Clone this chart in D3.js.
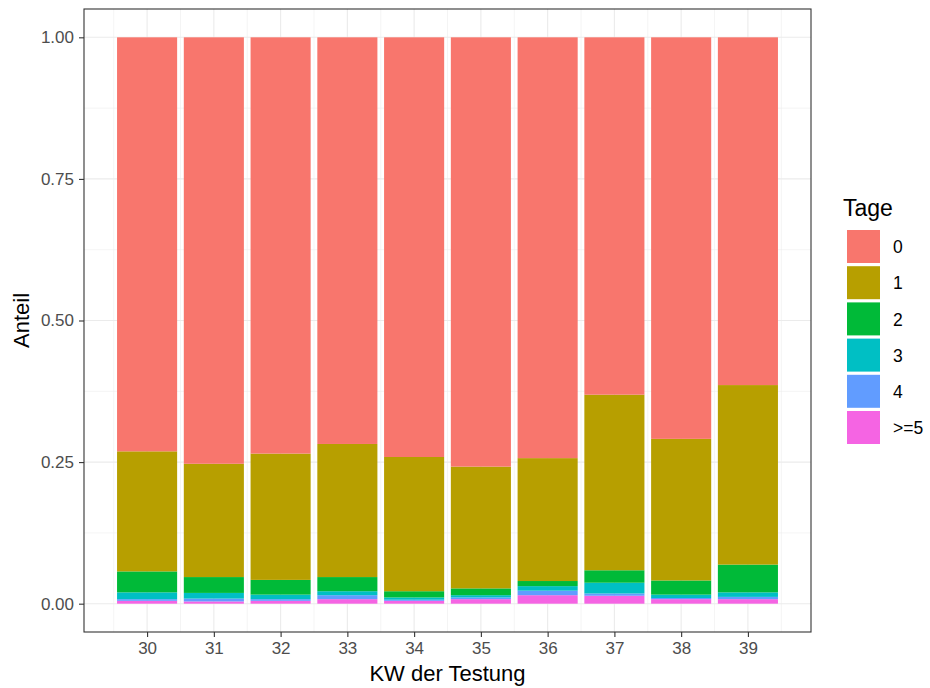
<!DOCTYPE html>
<html>
<head>
<meta charset="utf-8">
<script src="https://cdn.jsdelivr.net/npm/d3@7"></script>
<style>
html,body{margin:0;padding:0;background:#fff;}
svg{display:block;font-family:"Liberation Sans",Arial,sans-serif;}
</style>
</head>
<body>
<svg id="chart" width="930" height="688"></svg>
<script>
// Data
const weeks = [30, 31, 32, 33, 34, 35, 36, 37, 38, 39];
const categories = ["0", "1", "2", "3", "4", ">=5"];
const share0 = [0.731, 0.753, 0.735, 0.718, 0.741, 0.758, 0.743, 0.631, 0.709, 0.614];
const share1 = [0.212, 0.200, 0.223, 0.235, 0.237, 0.215, 0.217, 0.310, 0.250, 0.317];
const share2 = [0.037, 0.028, 0.026, 0.025, 0.011, 0.012, 0.009, 0.022, 0.025, 0.049];
const share3 = [0.012, 0.010, 0.008, 0.007, 0.004, 0.004, 0.008, 0.019, 0.006, 0.008];
const share4 = [0.003, 0.005, 0.003, 0.007, 0.002, 0.003, 0.008, 0.004, 0.002, 0.004];
const share5 = [0.005, 0.004, 0.005, 0.008, 0.005, 0.008, 0.015, 0.014, 0.008, 0.008];
const yTicks = [0, 0.25, 0.5, 0.75, 1];
const yTickLabels = ["0.00", "0.25", "0.50", "0.75", "1.00"];
const colors = ["#F8766D", "#B79F00", "#00BA38", "#00BFC4", "#619CFF", "#F564E3"];

const shares = [share0, share1, share2, share3, share4, share5];
const rows = weeks.map((w, i) => {
  const r = {week: w};
  categories.forEach((c, k) => r[c] = shares[k][i]);
  return r;
});

const svg = d3.select("#chart");
const panel = {left: 84, top: 9, right: 811, bottom: 632};

const barW = 0.9;
const xMin = weeks[0] - barW / 2, xMax = weeks[weeks.length - 1] + barW / 2;
const xPad = (xMax - xMin) * 0.05;
const x = d3.scaleLinear().domain([xMin - xPad, xMax + xPad]).range([panel.left, panel.right]);
const y = d3.scaleLinear().domain([-0.05, 1.05]).range([panel.bottom, panel.top]);

svg.append("rect").attr("x", panel.left).attr("y", panel.top)
  .attr("width", panel.right - panel.left).attr("height", panel.bottom - panel.top)
  .attr("fill", "#fff");

const g = svg.append("g");
const yMinor = [0.125, 0.375, 0.625, 0.875];
g.selectAll(".ymin").data(yMinor).join("line")
  .attr("x1", panel.left).attr("x2", panel.right)
  .attr("y1", d => y(d)).attr("y2", d => y(d))
  .attr("stroke", "#ebebeb").attr("stroke-width", 0.55);
const xMinor = d3.range(29.5, 40, 1);
g.selectAll(".xmin").data(xMinor).join("line")
  .attr("y1", panel.top).attr("y2", panel.bottom)
  .attr("x1", d => x(d)).attr("x2", d => x(d))
  .attr("stroke", "#ebebeb").attr("stroke-width", 0.55);
g.selectAll(".ymaj").data(yTicks).join("line")
  .attr("x1", panel.left).attr("x2", panel.right)
  .attr("y1", d => y(d)).attr("y2", d => y(d))
  .attr("stroke", "#ebebeb").attr("stroke-width", 1.1);
g.selectAll(".xmaj").data(weeks).join("line")
  .attr("y1", panel.top).attr("y2", panel.bottom)
  .attr("x1", d => x(d)).attr("x2", d => x(d))
  .attr("stroke", "#ebebeb").attr("stroke-width", 1.1);

// stacked bars: first category on top
const stack = d3.stack().keys(categories.slice().reverse());
const series = stack(rows);
const color = d3.scaleOrdinal().domain(categories).range(colors);
const bw = x(barW) - x(0);
svg.append("g").selectAll("g").data(series).join("g")
  .attr("fill", d => color(d.key))
  .selectAll("rect").data(d => d).join("rect")
  .attr("x", d => x(d.data.week) - bw / 2)
  .attr("width", bw)
  .attr("y", d => y(d[1]))
  .attr("height", d => y(d[0]) - y(d[1]));

svg.append("rect").attr("x", panel.left).attr("y", panel.top)
  .attr("width", panel.right - panel.left).attr("height", panel.bottom - panel.top)
  .attr("fill", "none").attr("stroke", "#333").attr("stroke-width", 1.1);

const yAxis = d3.axisLeft(y).tickValues(yTicks).tickFormat((d, i) => yTickLabels[i]).tickSize(5).tickPadding(5);
const ya = svg.append("g").attr("transform", `translate(${panel.left},0)`).call(yAxis);
const xAxis = d3.axisBottom(x).tickValues(weeks).tickFormat(d3.format("d")).tickSize(5).tickPadding(5);
const xa = svg.append("g").attr("transform", `translate(0,${panel.bottom})`).call(xAxis);
[ya, xa].forEach(a => {
  a.select(".domain").remove();
  a.selectAll(".tick line").attr("stroke", "#333").attr("stroke-width", 1.1);
  a.selectAll(".tick text").attr("fill", "#4d4d4d").style("font-size", "17px")
    .style("font-family", "'Liberation Sans', Arial, sans-serif");
});

svg.append("text").attr("x", (panel.left + panel.right) / 2).attr("y", 681)
  .attr("text-anchor", "middle").style("font-size", "22px").attr("fill", "#000")
  .text("KW der Testung");
svg.append("text").attr("transform", `translate(29,${(panel.top + panel.bottom) / 2}) rotate(-90)`)
  .attr("text-anchor", "middle").style("font-size", "22px").attr("fill", "#000")
  .text("Anteil");

const lg = svg.append("g").attr("transform", "translate(846,229)");
lg.append("text").attr("x", -3).attr("y", -13).style("font-size", "23px").attr("fill", "#000").text("Tage");
const items = lg.selectAll("g").data(categories).join("g")
  .attr("transform", (d, i) => `translate(0,${i * 36.2})`);
items.append("rect").attr("width", 35).attr("height", 35).attr("fill", "#fff");
items.append("rect").attr("x", 1).attr("y", 1).attr("width", 33).attr("height", 33)
  .attr("fill", d => color(d));
items.append("text").attr("x", 47).attr("y", 18).attr("dy", "0.35em")
  .style("font-size", "17.5px").attr("fill", "#000").text(d => d);
</script>
</body>
</html>
